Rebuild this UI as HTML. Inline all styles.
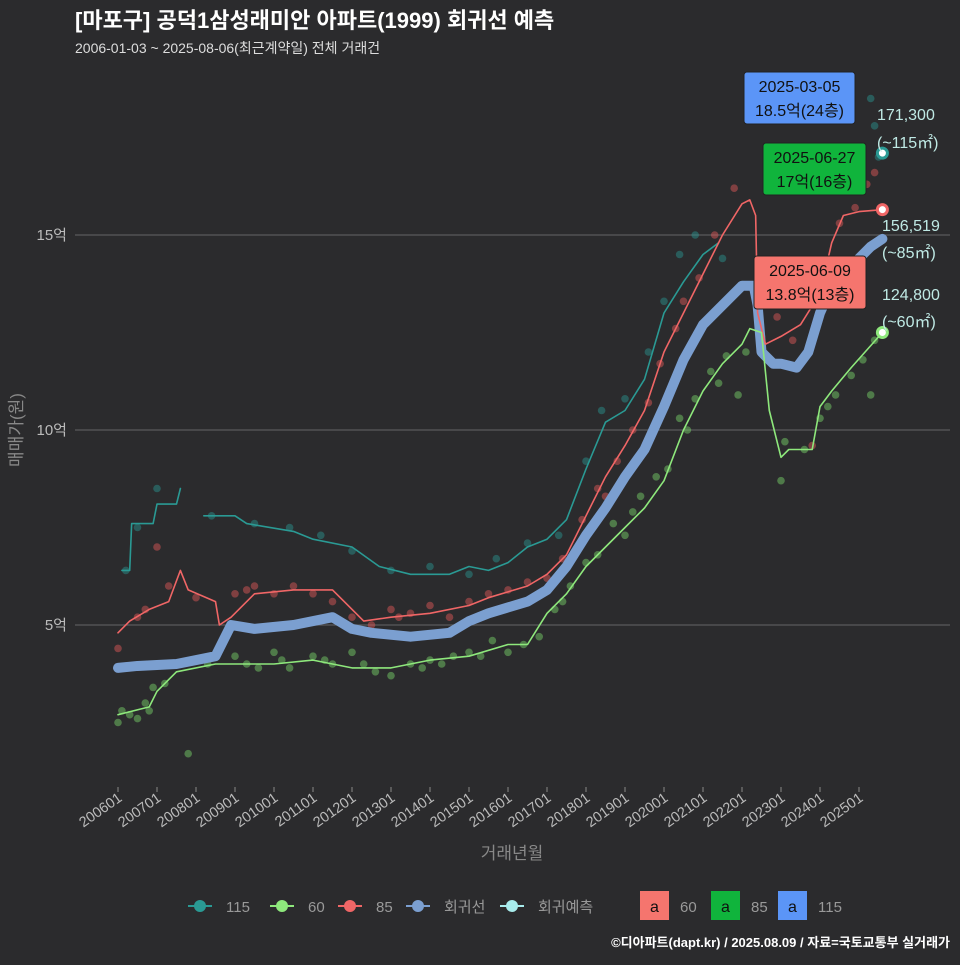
<!DOCTYPE html>
<html><head><meta charset="utf-8"><style>
body{margin:0;background:#2b2b2d;overflow:hidden;}
svg text{font-family:"Liberation Sans","Noto Sans CJK KR",sans-serif;}
</style></head><body>
<svg id="c" width="960" height="960" viewBox="0 0 960 960">
<rect width="960" height="960" fill="#2b2b2d"/>
<text x="75" y="28" font-size="22" font-weight="bold" fill="#fff">[마포구] 공덕1삼성래미안 아파트(1999) 회귀선 예측</text>
<text x="75" y="53" font-size="14" fill="#ddd">2006-01-03 ~ 2025-08-06(최근계약일) 전체 거래건</text>
<g id="grid"></g><g id="dots"></g><g id="lines"></g><g id="ann"></g><g id="axes"></g>
<text transform="translate(22,430) rotate(-90)" text-anchor="middle" font-size="17" fill="#888">매매가(원)</text>
<text x="512" y="859" text-anchor="middle" font-size="17" fill="#888">거래년월</text>
<g id="legend"></g>
<text x="950" y="947" text-anchor="end" font-size="13" font-weight="bold" fill="#fff">©디아파트(dapt.kr) / 2025.08.09 / 자료=국토교통부 실거래가</text>
</svg>
<script>
const yTicks=[5,10,15];
const yTickLabels=["5억","10억","15억"];
const xTickYears=[2006,2007,2008,2009,2010,2011,2012,2013,2014,2015,2016,2017,2018,2019,2020,2021,2022,2023,2024,2025];
const xTickLabels=["200601","200701","200801","200901","201001","201101","201201","201301","201401","201501","201601","201701","201801","201901","202001","202101","202201","202301","202401","202501"];
const regT=[2006,2006.5,2007.5,2008.5,2008.9,2009.5,2010.5,2011.5,2012,2012.5,2013.5,2014.5,2015,2015.5,2016.5,2017,2017.5,2018,2018.5,2019,2019.5,2020,2020.5,2021,2021.5,2022,2022.3,2022.4,2022.5,2022.8,2023,2023.4,2023.7,2024,2024.4,2024.8,2025.3,2025.6];
const regV=[3.9,3.95,4.0,4.2,5.0,4.9,5.0,5.2,4.9,4.8,4.7,4.8,5.1,5.3,5.6,5.9,6.5,7.3,8.0,8.8,9.5,10.6,11.8,12.7,13.2,13.7,13.7,13.2,12.0,11.7,11.7,11.6,12.0,13.0,13.9,14.2,14.7,14.9];
const s85T=[2006,2006.3,2006.8,2007.3,2007.6,2007.8,2008.5,2008.6,2008.9,2009.5,2010.5,2011.5,2011.8,2012.3,2013,2014,2015,2015.5,2016.5,2017,2017.5,2018,2018.5,2019,2019.5,2020,2020.5,2021,2021.5,2022,2022.2,2022.35,2022.4,2022.6,2023,2023.5,2024,2024.3,2024.6,2025,2025.6];
const s85V=[4.8,5.1,5.4,5.6,6.4,5.9,5.6,5.0,5.2,5.8,5.9,5.9,5.6,5.1,5.2,5.3,5.5,5.7,6.0,6.3,6.8,7.8,8.8,9.6,10.5,12.0,13.0,14.0,15.0,15.8,15.9,15.5,13.0,12.2,12.4,12.7,13.5,14.8,15.5,15.6,15.65];
const s60T=[2006,2006.8,2007,2007.5,2008.5,2009,2010,2011,2012,2013,2014,2015,2016,2016.5,2017,2017.5,2018,2018.5,2019,2019.5,2020,2020.5,2021,2021.5,2022,2022.2,2022.5,2022.7,2023,2023.2,2023.8,2024,2024.3,2024.8,2025.6];
const s60V=[2.7,2.9,3.3,3.8,4.0,4.0,4.0,4.1,3.9,3.9,4.1,4.2,4.5,4.5,5.3,5.8,6.5,7.0,7.5,8.0,8.7,10.0,11.0,11.7,12.2,12.6,12.5,10.5,9.3,9.5,9.5,10.6,11.0,11.6,12.5];
const s115aT=[2006.1,2006.3,2006.35,2006.9,2007,2007.5,2007.6];
const s115aV=[6.4,6.4,7.6,7.6,8.1,8.1,8.5];
const s115bT=[2008.2,2009,2009.3,2010.5,2011,2012,2012.7,2013.5,2014.5,2015,2015.5,2016,2016.5,2017,2017.5,2018,2018.5,2019,2019.5,2020,2020.5,2021,2021.4];
const s115bV=[7.8,7.8,7.6,7.4,7.2,7.0,6.5,6.3,6.3,6.5,6.4,6.6,7.0,7.2,7.7,9.0,10.2,10.5,11.3,13.0,13.8,14.5,14.8];
const dot60=[[2006,2.5],[2006.1,2.8],[2006.3,2.7],[2006.5,2.6],[2006.7,3.0],[2006.8,2.8],[2006.9,3.4],[2007.2,3.5],[2007.8,1.7],[2008.3,4.0],[2009,4.2],[2009.3,4.0],[2009.6,3.9],[2010,4.3],[2010.2,4.1],[2010.4,3.9],[2011,4.2],[2011.3,4.1],[2011.5,4.0],[2012,4.3],[2012.3,4.0],[2012.6,3.8],[2013,3.7],[2013.5,4.0],[2013.8,3.9],[2014,4.1],[2014.3,4.0],[2014.6,4.2],[2015,4.3],[2015.3,4.2],[2015.6,4.6],[2016,4.3],[2016.4,4.5],[2016.8,4.7],[2017.2,5.4],[2017.4,5.6],[2017.6,6.0],[2018,6.6],[2018.3,6.8],[2018.7,7.6],[2019,7.3],[2019.2,7.9],[2019.4,8.3],[2019.8,8.8],[2020.1,9.0],[2020.4,10.3],[2020.6,10.0],[2020.8,10.8],[2021.2,11.5],[2021.4,11.2],[2021.6,11.9],[2021.9,10.9],[2022.1,12.0],[2023,8.7],[2023.1,9.7],[2023.6,9.5],[2024,10.3],[2024.2,10.6],[2024.4,10.9],[2024.8,11.4],[2025.1,11.8],[2025.3,10.9],[2025.4,12.3]];
const dot85=[[2006,4.4],[2006.5,5.2],[2006.7,5.4],[2007,7.0],[2007.3,6.0],[2008,5.7],[2009,5.8],[2009.3,5.9],[2009.5,6.0],[2010,5.8],[2010.5,6.0],[2011,5.8],[2011.5,5.6],[2012,5.2],[2012.5,5.0],[2013,5.4],[2013.2,5.2],[2013.5,5.3],[2014,5.5],[2014.5,5.2],[2015,5.6],[2015.5,5.8],[2016,5.9],[2016.5,6.1],[2017,6.2],[2017.4,6.7],[2017.9,7.7],[2018.3,8.5],[2018.5,8.3],[2018.8,9.2],[2019.2,10.0],[2019.6,10.7],[2019.9,11.7],[2020.3,12.6],[2020.5,13.3],[2020.9,13.9],[2021.3,15.0],[2021.8,16.2],[2022.5,12.4],[2022.9,12.9],[2023.3,12.3],[2023.8,9.6],[2024.1,13.4],[2024.5,15.3],[2024.9,15.7],[2025.2,16.3],[2025.4,16.6]];
const dot115=[[2006.2,6.4],[2006.5,7.5],[2007,8.5],[2008.4,7.8],[2009.5,7.6],[2010.4,7.5],[2011.2,7.3],[2012,6.9],[2013,6.4],[2014,6.5],[2015,6.3],[2015.7,6.7],[2016.5,7.1],[2017.3,7.3],[2018,9.2],[2018.4,10.5],[2019,10.8],[2019.6,12.0],[2020,13.3],[2020.4,14.5],[2020.8,15.0],[2021.5,14.4],[2025.3,18.5],[2025.4,17.8],[2025.5,17.0]];
const X=t=>118+(t-2006)*39, Y=v=>820-v*39;
const NS="http://www.w3.org/2000/svg";
function mk(p,tag,a){const e=document.createElementNS(NS,tag);for(const k in a)e.setAttribute(k,a[k]);p.appendChild(e);return e;}
const G=id=>document.getElementById(id);
yTicks.forEach((v,i)=>{
 const l=mk(G('grid'),'line',{x1:75,x2:950,y1:Y(v),y2:Y(v),stroke:'#5a5a5c','stroke-width':1.2});
 
 
 const t=mk(G('axes'),'text',{x:67,y:Y(v)+5,'text-anchor':'end','font-size':15,fill:'#bbb'});t.textContent=yTickLabels[i];
 
 
});
xTickYears.forEach((yr,i)=>{
 const x=X(yr);
 const tk=mk(G('axes'),'line',{x1:x,x2:x,y1:787,y2:792,stroke:'#888'});
 
 
 const t=mk(G('axes'),'text',{transform:`translate(${x+5},${800}) rotate(-35)`,'text-anchor':'end','font-size':14.5,fill:'#bbb'});t.textContent=xTickLabels[i];
 
 
});
function dots(arr,col,name){arr.forEach(d=>{const c=mk(G('dots'),'circle',{cx:X(d[0]),cy:Y(d[1]),r:3.8,fill:col,'fill-opacity':0.45});
 
 });}
dots(dot60,'#7cdc6c','dot-60');dots(dot85,'#e85b5b','dot-85');dots(dot115,'#2a9a94','dot-115');
function line(T,V,col,w,name){const p=mk(G('lines'),'polyline',{points:T.map((t,i)=>X(t)+','+Y(V[i])).join(' '),fill:'none',stroke:col,'stroke-width':w,'stroke-linejoin':'round','stroke-linecap':'round'});
 
 }
line(s115aT,s115aV,'#2a9a94',1.6,'line-115');line(s115bT,s115bV,'#2a9a94',1.6,'line-115');
line(regT,regV,'#7b9fd0',10,'regression-line');
line(s85T,s85V,'#f06666',1.6,'line-85');line(s60T,s60V,'#8ee87c',1.6,'line-60');
function endPt(t,v,col,name){const c=mk(G('lines'),'circle',{cx:X(t),cy:Y(v),r:5,fill:'#fff',stroke:col,'stroke-width':3});
 
 }
endPt(2025.6,17.1,'#2a9a94','end-point-115');endPt(2025.6,15.65,'#f06666','end-point-85');endPt(2025.6,12.5,'#8ee87c','end-point-60');
function lbl(x,y,s,name){const t=mk(G('ann'),'text',{x:x,y:y,'font-size':16,fill:'#bfe9e4'});t.textContent=s;
 
 }
lbl(877,120,'171,300','end-label-115');lbl(877,148,'(~115㎡)','end-label-115-area');
lbl(882,231,'156,519','end-label-85');lbl(882,258,'(~85㎡)','end-label-85-area');
lbl(882,300,'124,800','end-label-60');lbl(882,327,'(~60㎡)','end-label-60-area');
function box(x,y,w,h,col,l1,l2,name){const g=mk(G('ann'),'g',{});
 
 
 mk(g,'rect',{x:x,y:y,width:w,height:h,rx:3,fill:col,stroke:'#222'});
 const a=mk(g,'text',{x:x+w/2,y:y+20,'text-anchor':'middle','font-size':16,fill:'#111'});a.textContent=l1;
 const b=mk(g,'text',{x:x+w/2,y:y+44,'text-anchor':'middle','font-size':16,fill:'#111'});b.textContent=l2;}
box(744,72,111,52,'#5b95f7','2025-03-05','18.5억(24층)','annotation-115');
box(763,143,103,52,'#10b43c','2025-06-27','17억(16층)','annotation-85');
box(754,256,112,53,'#f5756e','2025-06-09','13.8억(13층)','annotation-60');
const leg=[['#2a9a94','115',200],['#8ee87c','60',282],['#f06666','85',350],['#7b9fd0','회귀선',418],['#a8ecec','회귀예측',512]];
leg.forEach(l=>{const g=mk(G('legend'),'g',{});
 
 
 mk(g,'line',{x1:l[2]-12,x2:l[2]+12,y1:906,y2:906,stroke:l[0],'stroke-width':2});
 mk(g,'circle',{cx:l[2],cy:906,r:6,fill:l[0]});
 const t=mk(g,'text',{x:l[2]+26,y:912,'font-size':15,fill:'#999'});t.textContent=l[1];});
[['#f5756e','60',640],['#10b43c','85',711],['#5b95f7','115',778]].forEach(l=>{const g=mk(G('legend'),'g',{});
 
 
 mk(g,'rect',{x:l[2],y:891,width:29,height:29,fill:l[0]});
 const a=mk(g,'text',{x:l[2]+14.5,y:912,'text-anchor':'middle','font-size':16,fill:'#111'});a.textContent='a';
 const t=mk(g,'text',{x:l[2]+40,y:912,'font-size':15,fill:'#999'});t.textContent=l[1];});
</script>
</body></html>
